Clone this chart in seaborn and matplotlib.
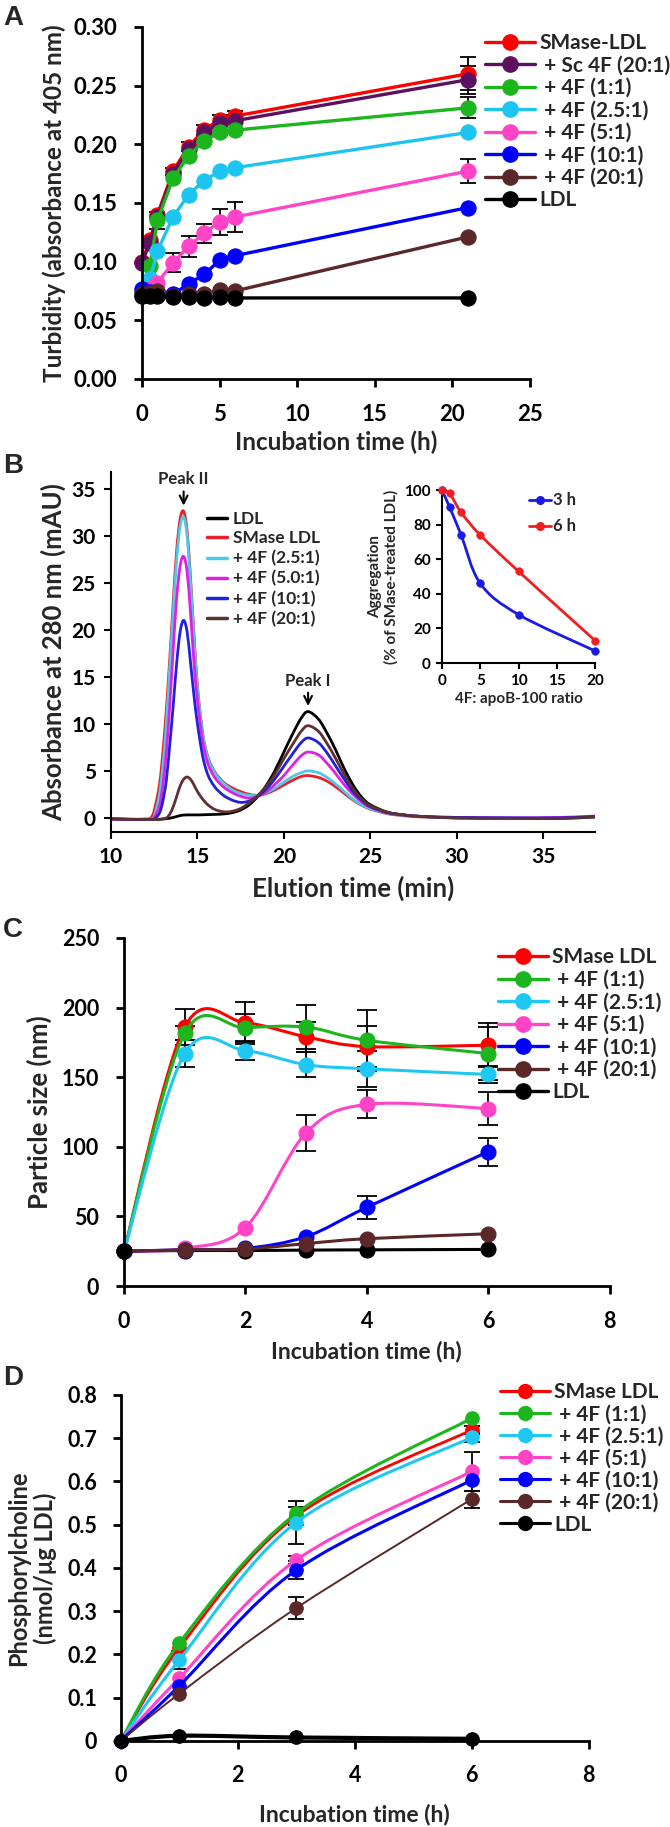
import numpy as np
import matplotlib
matplotlib.use('Agg')
import matplotlib.pyplot as plt
from matplotlib.path import Path
from matplotlib.patches import PathPatch
from matplotlib.lines import Line2D
from matplotlib.ticker import FuncFormatter
import seaborn as sns

import warnings
warnings.filterwarnings('ignore')

sns.set_theme(style='ticks')
plt.rcParams['font.family'] = ['Lato', 'DejaVu Sans']
plt.rcParams['font.weight'] = 'bold'
plt.rcParams['axes.labelweight'] = 'bold'

# ---------------- data: panel A (turbidity) ----------------
time_a = [0, 0.5, 1, 2, 3, 4, 5, 6, 21]
turb_smase = [0.100, 0.118, 0.140, 0.177, 0.198, 0.212, 0.221, 0.224, 0.260]
turb_sc4f = [0.099, 0.116, 0.138, 0.175, 0.196, 0.210, 0.218, 0.220, 0.255]
turb_1 = [0.075, 0.096, 0.135, 0.171, 0.190, 0.203, 0.210, 0.212, 0.231]
turb_2_5 = [0.071, 0.085, 0.109, 0.138, 0.157, 0.169, 0.177, 0.180, 0.210]
turb_5 = [0.072, 0.077, 0.082, 0.099, 0.113, 0.124, 0.134, 0.138, 0.177]
turb_10 = [0.077, 0.074, 0.074, 0.072, 0.081, 0.089, 0.101, 0.105, 0.146]
turb_20 = [0.072, 0.073, 0.075, 0.071, 0.072, 0.072, 0.076, 0.075, 0.121]
turb_ldl = [0.071, 0.071, 0.071, 0.070, 0.070, 0.069, 0.070, 0.069, 0.069]
err_a_smase = [0, 0, 0, 0.003, 0.004, 0.004, 0.004, 0.004, 0.014]
err_a_sc4f = [0, 0, 0, 0, 0, 0, 0, 0, 0.012]
err_a_1 = [0, 0, 0.007, 0, 0, 0, 0, 0, 0.009]
err_a_5 = [0, 0, 0, 0.008, 0.009, 0.008, 0.011, 0.013, 0.010]
labels_a = ['SMase-LDL', ' + Sc 4F (20:1)', ' + 4F (1:1)', ' + 4F (2.5:1)',
            ' + 4F (5:1)', ' + 4F (10:1)', ' + 4F (20:1)', 'LDL']
colors_a = ['#FF0000', '#5E1060', '#1DB51D', '#1EC4F0', '#FF44C8', '#0000FF', '#5A2828', '#000000']

# ---------------- data: panel B (FPLC elution) ----------------
elution_min = [10, 11, 12, 12.3, 12.5, 12.8, 13.0, 13.2, 13.4, 13.6, 13.8, 14.0, 14.2, 14.4, 14.6,
               14.8, 15.0, 15.3, 15.6, 16.0, 16.5, 17.0, 17.5, 18.0, 18.5, 19.0, 19.5, 20.0, 20.5,
               21.0, 21.4, 22.0, 22.5, 23.0, 23.5, 24.0, 24.5, 25.0, 26.0, 27.0, 28.0, 30.0, 33.0,
               36.0, 38.0]
abs_ldl = [-0.1, -0.15, -0.15, -0.15, -0.15, -0.15, -0.12, -0.08, -0.03, 0.05, 0.15, 0.25, 0.3,
           0.32, 0.32, 0.32, 0.32, 0.33, 0.35, 0.37, 0.42, 0.55, 0.85, 1.4, 2.3, 3.5, 5.1, 7.0,
           8.9, 10.6, 11.3, 10.5, 9.0, 7.2, 5.2, 3.5, 2.2, 1.4, 0.6, 0.3, 0.15, 0.0, -0.05, -0.05, 0.1]
abs_smase = [-0.1, -0.15, -0.15, 0.0, 0.8, 3.5, 7.0, 11.5, 17.0, 23.0, 28.5, 31.8, 32.6, 30.5, 25.5,
             19.5, 14.0, 9.0, 6.5, 4.9, 3.8, 3.2, 2.8, 2.5, 2.4, 2.6, 3.0, 3.5, 4.0, 4.4, 4.5, 4.3,
             3.9, 3.3, 2.6, 1.9, 1.35, 0.95, 0.45, 0.22, 0.1, 0.0, -0.05, 0.0, 0.15]
abs_2_5 = [-0.1, -0.15, -0.15, -0.1, 0.2, 2.5, 5.5, 10.0, 16.0, 22.0, 27.5, 31.0, 32.0, 30.0, 25.0,
           19.0, 13.8, 9.0, 6.4, 4.8, 3.7, 3.0, 2.6, 2.4, 2.4, 2.7, 3.2, 3.8, 4.4, 4.8, 5.0, 4.8,
           4.3, 3.6, 2.8, 2.0, 1.4, 1.0, 0.5, 0.25, 0.12, 0.0, 0.0, 0.0, 0.1]
abs_5 = [-0.1, -0.15, -0.15, -0.15, 0.0, 1.3, 3.5, 7.0, 12.0, 18.0, 23.5, 26.8, 27.8, 26.2, 21.8,
         16.5, 12.5, 8.2, 5.8, 4.3, 3.3, 2.7, 2.3, 2.1, 2.3, 2.8, 3.6, 4.5, 5.6, 6.6, 7.0, 6.7,
         5.8, 4.7, 3.5, 2.5, 1.7, 1.15, 0.55, 0.3, 0.15, 0.05, 0.0, 0.05, 0.2]
abs_10 = [-0.1, -0.15, -0.15, -0.15, -0.1, 0.5, 1.8, 4.0, 7.8, 12.0, 16.5, 19.8, 21.0, 19.8, 16.5,
          13.0, 10.0, 6.6, 4.6, 3.3, 2.4, 1.9, 1.65, 1.8, 2.3, 3.1, 4.2, 5.5, 6.8, 8.0, 8.5, 8.0,
          6.9, 5.5, 4.1, 2.8, 1.9, 1.2, 0.55, 0.3, 0.15, 0.05, 0.0, 0.0, 0.15]
abs_20 = [-0.1, -0.15, -0.15, -0.15, -0.15, -0.15, -0.1, 0.0, 0.4, 1.2, 2.3, 3.4, 4.1, 4.35, 4.1,
          3.5, 2.8, 2.0, 1.4, 0.9, 0.65, 0.7, 1.0, 1.6, 2.4, 3.4, 4.7, 6.3, 7.8, 9.2, 9.8, 9.2,
          7.9, 6.3, 4.6, 3.1, 2.0, 1.3, 0.6, 0.3, 0.15, 0.0, -0.05, -0.05, 0.1]
labels_b = ['LDL', 'SMase LDL', '+ 4F (2.5:1)', '+ 4F (5.0:1)', '+ 4F (10:1)', '+ 4F (20:1)']
colors_b = ['#000000', '#E8202A', '#4FC8E8', '#E020E0', '#2020DD', '#5E3030']

# inset: aggregation vs 4F:apoB-100 ratio
ratio = [0, 1, 2.5, 5, 10, 20]
agg_3h = [100, 90, 74, 46, 28, 7]
agg_6h = [100, 98, 87, 74, 53, 13]

# ---------------- data: panel C (particle size) ----------------
time_c = [0, 1, 2, 3, 4, 6]
size_smase = [25, 186, 189, 179, 172, 173]
size_1 = [25, 181.5, 185.5, 186, 176.5, 167]
size_2_5 = [25, 167, 169, 159, 156, 152]
size_5 = [25, 27, 42, 110, 130.5, 127.5]
size_10 = [25, 26, 27, 35.5, 56.5, 96.5]
size_20 = [25, 26, 26.5, 30.5, 34, 37.5]
size_ldl = [25, 25.5, 25.5, 25.8, 26, 26.3]
err_c_smase = [0, 13, 15, 11, 15, 16]
err_c_1 = [0, 5, 10, 16, 22, 19]
err_c_2_5 = [0, 10, 7, 9, 13, 6]
err_c_5 = [0, 0, 0, 13, 10, 12]
err_c_10 = [0, 0, 0, 0, 8.5, 10]

# ---------------- data: panel D (phosphorylcholine) ----------------
time_d = [0, 1, 3, 6]
pc_smase = [0, 0.215, 0.520, 0.719]
pc_1 = [0, 0.226, 0.526, 0.746]
pc_2_5 = [0, 0.187, 0.505, 0.702]
pc_5 = [0, 0.145, 0.418, 0.623]
pc_10 = [0, 0.127, 0.395, 0.603]
pc_20 = [0, 0.109, 0.307, 0.559]
pc_ldl = [0, 0.012, 0.008, 0.005]
err_d_smase = [0, 0, 0.02, 0.01]
err_d_2_5 = [0, 0.02, 0.05, 0.01]
err_d_5 = [0, 0, 0.01, 0.045]
err_d_10 = [0, 0, 0.02, 0]
err_d_20 = [0, 0, 0.025, 0.02]

labels_cd = ['SMase LDL', ' + 4F (1:1)', ' + 4F (2.5:1)', ' + 4F (5:1)', ' + 4F (10:1)',
             ' + 4F (20:1)', 'LDL']
colors_cd = ['#FF0000', '#1DB51D', '#1EC8F2', '#FF44C8', '#0000FF', '#5A2828', '#000000']


def smooth_line(ax, x, y, color, lw, z=2):
    # Excel-style smoothed line: cubic Bezier segments through the data points
    pts = np.column_stack([x, y]).astype(float)
    n = len(pts)
    verts = [pts[0]]
    codes = [Path.MOVETO]
    for i in range(n - 1):
        p0 = pts[i - 1] if i > 0 else pts[i]
        p1, p2 = pts[i], pts[i + 1]
        p3 = pts[i + 2] if i + 2 < n else pts[i + 1]
        verts += [p1 + (p2 - p0) / 6, p2 - (p3 - p1) / 6, p2]
        codes += [Path.CURVE4] * 3
    ax.add_patch(PathPatch(Path(verts, codes), facecolor='none', edgecolor=color,
                           lw=lw, zorder=z, capstyle='round', joinstyle='round'))


def errbars(ax, x, y, e, cap, z=1.5):
    x, y, e = np.array(x), np.array(y), np.array(e)
    m = e > 0
    if m.any():
        ax.errorbar(x[m], y[m], yerr=e[m], fmt='none', ecolor='black', elinewidth=1.3,
                    capsize=cap, capthick=1.3, zorder=z, clip_on=False)


def style_axes(ax, lw, size, pad, length=6):
    sns.despine(ax=ax)
    for s in ('left', 'bottom'):
        ax.spines[s].set_linewidth(lw)
        ax.spines[s].set_color('black')
    ax.tick_params(direction='out', length=length, width=lw, labelsize=size, pad=pad,
                   colors='black')
    ax.grid(False)


def handles(colors, lw, ms, marker='o'):
    return [Line2D([0], [0], color=c, lw=lw, marker=marker, markersize=ms,
                   markerfacecolor=c, markeredgecolor=c) for c in colors]


fig = plt.figure(figsize=(6.7, 18.27), dpi=100)

# ================= Panel A =================
ax = fig.add_axes([0.2119, 0.7926, 0.5791, 0.1927])
series_a = [turb_smase, turb_sc4f, turb_1, turb_2_5, turb_5, turb_10, turb_20, turb_ldl]
errbars(ax, time_a, turb_smase, err_a_smase, 6)
errbars(ax, time_a, turb_sc4f, err_a_sc4f, 6)
errbars(ax, time_a, turb_1, err_a_1, 6)
errbars(ax, time_a, turb_5, err_a_5, 6)
for vals, c in zip(series_a, colors_a):
    sns.lineplot(x=time_a, y=vals, color=c, lw=2.4, marker='o', markersize=11,
                 markeredgecolor=c, markerfacecolor=c, clip_on=False, ax=ax)
ax.set_xlim(0, 25)
ax.set_ylim(0, 0.30)
ax.set_xticks([0, 5, 10, 15, 20, 25])
ax.set_yticks(np.arange(0, 0.301, 0.05))
ax.yaxis.set_major_formatter(FuncFormatter(lambda v, p: f'{v:.2f}'))
style_axes(ax, 2, 16, 12)
ax.set_xlabel('Incubation time (h)', fontsize=17.5, labelpad=4)
ax.set_ylabel('Turbidity (absorbance at 405 nm)', fontsize=17.5, labelpad=5)
ax.legend(handles(colors_a, 2.4, 11), labels_a, loc='upper left',
          bbox_to_anchor=(0.724, 0.982), bbox_transform=fig.transFigure, frameon=False,
          fontsize=15, handlelength=2.4, handletextpad=0.2, labelspacing=0.12,
          borderpad=0, borderaxespad=0)

# ================= Panel B =================
ax = fig.add_axes([0.1657, 0.5446, 0.7224, 0.1972])
series_b = [abs_ldl, abs_smase, abs_2_5, abs_5, abs_10, abs_20]
for vals, c in zip(series_b, colors_b):
    smooth_line(ax, elution_min, vals, c, 2.0)
ax.set_xlim(10, 38)
ax.set_ylim(-1.5, 36.8)
ax.set_xticks([10, 15, 20, 25, 30, 35])
ax.set_yticks([0, 5, 10, 15, 20, 25, 30, 35])
style_axes(ax, 1.5, 15, 6, length=5)
ax.set_xlabel('Elution time (min)', fontsize=18.5, labelpad=6)
ax.set_ylabel('Absorbance at 280 nm (mAU)', fontsize=18.5, labelpad=4)
ax.text(14.2, 36.0, 'Peak II', ha='center', va='center', fontsize=12)
ax.annotate('', xy=(14.2, 32.9), xytext=(14.2, 35.0),
            arrowprops=dict(arrowstyle='->', color='black', lw=1.5, mutation_scale=14))
ax.text(21.4, 14.6, 'Peak I', ha='center', va='center', fontsize=12)
ax.annotate('', xy=(21.4, 11.6), xytext=(21.4, 13.6),
            arrowprops=dict(arrowstyle='->', color='black', lw=1.5, mutation_scale=14))
ax.legend([Line2D([0], [0], color=c, lw=2.5) for c in colors_b], labels_b, loc='upper left',
          bbox_to_anchor=(0.309, 0.7205), bbox_transform=fig.transFigure, frameon=False,
          fontsize=12.5, handlelength=1.15, handletextpad=0.35, labelspacing=0.22,
          borderpad=0, borderaxespad=0)

# inset
ax = fig.add_axes([0.6597, 0.6371, 0.2284, 0.0947])
smooth_line(ax, ratio, agg_3h, '#1A1AE6', 2.0)
smooth_line(ax, ratio, agg_6h, '#F01E1E', 2.0)
sns.scatterplot(x=ratio, y=agg_3h, color='#1A1AE6', s=30, edgecolor='#1A1AE6', zorder=3,
                clip_on=False, ax=ax)
sns.scatterplot(x=ratio, y=agg_6h, color='#F01E1E', s=30, edgecolor='#F01E1E', zorder=3,
                clip_on=False, ax=ax)
ax.set_xlim(0, 20)
ax.set_ylim(0, 100)
ax.set_xticks([0, 5, 10, 15, 20])
ax.set_yticks([0, 20, 40, 60, 80, 100])
style_axes(ax, 1.5, 11, 4, length=4)
ax.set_xlabel('4F: apoB-100 ratio', fontsize=11, labelpad=3)
ax.set_ylabel('Aggregation\n(% of SMase-treated LDL)', fontsize=11, labelpad=4)
ax.legend(handles(['#1A1AE6', '#F01E1E'], 2.0, 5.5), ['3 h', '6 h'], loc='upper left',
          bbox_to_anchor=(0.790, 0.7305), bbox_transform=fig.transFigure, frameon=False,
          fontsize=12, handlelength=1.3, handletextpad=0.1, labelspacing=0.6,
          borderpad=0, borderaxespad=0)

# ================= Panel C =================
ax = fig.add_axes([0.1851, 0.2961, 0.7248, 0.1905])
series_c = [size_smase, size_1, size_2_5, size_5, size_10, size_20]
errbars(ax, time_c, size_smase, err_c_smase, 7)
errbars(ax, time_c, size_1, err_c_1, 7)
errbars(ax, time_c, size_2_5, err_c_2_5, 7)
errbars(ax, time_c, size_5, err_c_5, 7)
errbars(ax, time_c, size_10, err_c_10, 7)
# LDL sits underneath the 20:1 series, except the first point
smooth_line(ax, time_c, size_ldl, 'black', 2.2, z=1.8)
sns.scatterplot(x=time_c, y=size_ldl, color='black', s=115, edgecolor='black', zorder=1.85,
                clip_on=False, ax=ax)
for i, (vals, c) in enumerate(zip(series_c, colors_cd)):
    smooth_line(ax, time_c, vals, c, 2.2, z=2 + i * 0.01)
    sns.scatterplot(x=time_c, y=vals, color=c, s=115, edgecolor=c, zorder=2.005 + i * 0.01,
                    clip_on=False, ax=ax)
sns.scatterplot(x=time_c[:1], y=size_ldl[:1], color='black', s=115, edgecolor='black',
                zorder=3, clip_on=False, ax=ax)
ax.set_xlim(0, 8)
ax.set_ylim(0, 250)
ax.set_xticks([0, 2, 4, 6, 8])
ax.set_yticks([0, 50, 100, 150, 200, 250])
style_axes(ax, 2, 15.5, 12)
ax.set_xlabel('Incubation time (h)', fontsize=16.5, labelpad=6)
ax.set_ylabel('Particle size (nm)', fontsize=18.5, labelpad=7)
ax.legend(handles(colors_cd, 2.4, 11), labels_cd, loc='upper left',
          bbox_to_anchor=(0.7433, 0.4815), bbox_transform=fig.transFigure, frameon=False,
          fontsize=15, handlelength=2.4, handletextpad=0.2, labelspacing=0.12,
          borderpad=0, borderaxespad=0)

# ================= Panel D =================
ax = fig.add_axes([0.1801, 0.0471, 0.6985, 0.1894])
series_d = [pc_smase, pc_1, pc_2_5, pc_5, pc_10, pc_20, pc_ldl]
errbars(ax, time_d, pc_smase, err_d_smase, 6)
errbars(ax, time_d, pc_2_5, err_d_2_5, 6)
errbars(ax, time_d, pc_5, err_d_5, 6)
errbars(ax, time_d, pc_10, err_d_10, 6)
errbars(ax, time_d, pc_20, err_d_20, 6)
widths_d = [2.0, 2.2, 2.2, 2.2, 2.2, 1.4, 3.0]
for i, (vals, c) in enumerate(zip(series_d, colors_cd)):
    smooth_line(ax, time_d, vals, c, widths_d[i], z=2 + i * 0.01)
    sns.scatterplot(x=time_d, y=vals, color=c, s=95, edgecolor=c, zorder=2.005 + i * 0.01,
                    clip_on=False, ax=ax)
ax.set_xlim(0, 8)
ax.set_ylim(0, 0.8)
ax.set_xticks([0, 2, 4, 6, 8])
ax.set_yticks(np.arange(0, 0.81, 0.1))
ax.yaxis.set_major_formatter(FuncFormatter(lambda v, p: '0' if abs(v) < 1e-9 else f'{v:.1f}'))
style_axes(ax, 2, 15.5, 11)
ax.set_xlabel('Incubation time (h)', fontsize=16.5, labelpad=13)
ax.set_ylabel('Phosphorylcholine\n(nmol/\u03bcg LDL)', fontsize=17, labelpad=7)
ax.legend(handles(colors_cd, 2.2, 10), labels_cd, loc='upper left',
          bbox_to_anchor=(0.7463, 0.2435), bbox_transform=fig.transFigure, frameon=False,
          fontsize=15, handlelength=2.4, handletextpad=0.2, labelspacing=0.1,
          borderpad=0, borderaxespad=0)

# panel letters
for letter, ytop in [('A', 0.997), ('B', 0.752), ('C', 0.498), ('D', 0.253)]:
    fig.text(0.005, ytop, letter, fontsize=20, fontweight='bold', va='top', ha='left',
             family=['Liberation Sans', 'DejaVu Sans'])

fig.savefig('out.png', dpi=100)
